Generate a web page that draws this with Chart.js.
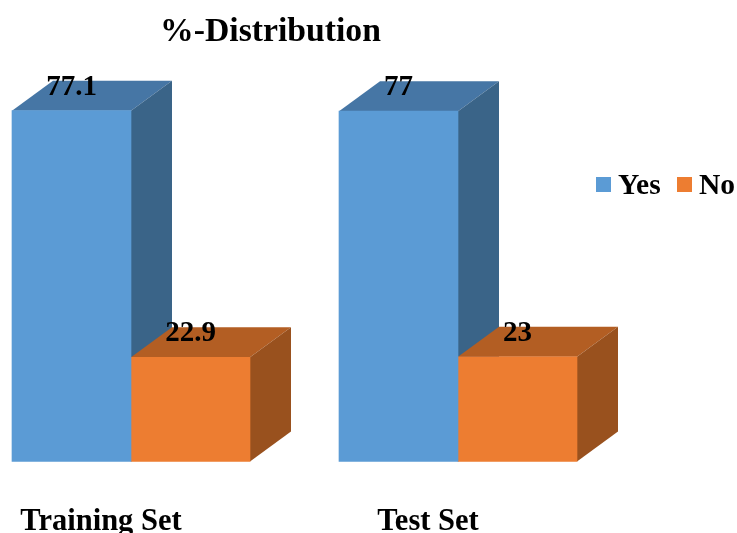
<!DOCTYPE html>
<html>
<head>
<meta charset="utf-8">
<style>
  html, body { margin: 0; padding: 0; background: #fff; overflow: hidden; }
  canvas { display: block; }
</style>
<script src="https://cdn.jsdelivr.net/npm/chart.js@4"></script>
</head>
<body>
<canvas id="chart" width="737" height="533"></canvas>
<script>
const categories = ["Training Set", "Test Set"];
const yesValues = [77.1, 77];
const noValues = [22.9, 23];
const chartTitle = "%-Distribution";

const FONT = '"Liberation Serif", serif';
const DEPTH_X = 41;
const DEPTH_Y = 30;

// Face colours for each series: front, top and side of the box.
const yesFaces = { front: "#5B9BD5", top: "#4676A5", side: "#3A6488" };
const noFaces = { front: "#ED7D31", top: "#B35E23", side: "#99511E" };

function polygon(ctx, points, fill) {
  ctx.beginPath();
  points.forEach(([x, y], i) => (i ? ctx.lineTo(x, y) : ctx.moveTo(x, y)));
  ctx.closePath();
  ctx.fillStyle = fill;
  ctx.fill();
}

const boxFaces = {
  id: "boxFaces",
  // Extrudes every bar into a box; later series overlap the sides of earlier ones.
  beforeDatasetsDraw(chart) {
    const ctx = chart.ctx;
    ctx.save();
    chart.data.datasets.forEach((dataset, i) => {
      chart.getDatasetMeta(i).data.forEach((bar) => {
        const left = bar.x - bar.width / 2;
        const right = bar.x + bar.width / 2;
        const top = bar.y;
        const bottom = bar.base;
        polygon(ctx, [[left, top], [left + DEPTH_X, top - DEPTH_Y],
          [right + DEPTH_X, top - DEPTH_Y], [right, top]], dataset.faces.top);
        polygon(ctx, [[right, top], [right + DEPTH_X, top - DEPTH_Y],
          [right + DEPTH_X, bottom - DEPTH_Y], [right, bottom]], dataset.faces.side);
      });
    });
    ctx.restore();
  },
  // Value labels sit on the top face of each box.
  afterDatasetsDraw(chart) {
    const ctx = chart.ctx;
    ctx.save();
    ctx.font = `bold 29px ${FONT}`;
    ctx.fillStyle = "#000";
    ctx.textAlign = "center";
    ctx.textBaseline = "middle";
    chart.data.datasets.forEach((dataset, i) => {
      chart.getDatasetMeta(i).data.forEach((bar, j) => {
        ctx.fillText(String(dataset.data[j]), bar.x, bar.y - 23.5);
      });
    });
    ctx.restore();
  }
};

// Compact legend to the right of the boxes, with a tight swatch-to-text gap.
const sideLegend = {
  id: "sideLegend",
  afterDraw(chart) {
    const ctx = chart.ctx;
    const starts = [596, 677];
    const y = 184.5;
    ctx.save();
    ctx.font = `bold 29.5px ${FONT}`;
    ctx.textBaseline = "middle";
    ctx.textAlign = "left";
    chart.data.datasets.forEach((dataset, i) => {
      ctx.fillStyle = dataset.backgroundColor;
      ctx.fillRect(starts[i], y - 7.5, 15, 15);
      ctx.fillStyle = "#000";
      ctx.fillText(dataset.label, starts[i] + 22, y + 2);
    });
    ctx.restore();
  }
};

// The title is centred over the boxes rather than over the whole canvas.
const titlePlacement = {
  id: "titlePlacement",
  afterLayout(chart) {
    chart.titleBlock.left = 0;
    chart.titleBlock.right = 541;
    chart.titleBlock.width = 541;
  }
};

new Chart(document.getElementById("chart"), {
  type: "bar",
  data: {
    labels: categories,
    datasets: [
      { label: "Yes", data: yesValues, backgroundColor: yesFaces.front, faces: yesFaces },
      { label: "No", data: noValues, backgroundColor: noFaces.front, faces: noFaces }
    ]
  },
  options: {
    responsive: false,
    animation: false,
    clip: false,
    barThickness: 119,
    layout: { padding: { left: 131, right: 279, top: 12, bottom: 0 } },
    plugins: {
      legend: { display: false },
      tooltip: { enabled: false },
      title: {
        display: true,
        text: chartTitle,
        color: "#000",
        font: { family: FONT, size: 33.7, weight: "bold" },
        padding: { top: 0, bottom: 22.3 }
      }
    },
    scales: {
      x: {
        type: "category",
        offset: false,
        grid: { display: false, drawTicks: false },
        border: { display: false },
        afterFit(scale) { scale.height = 71.5; },
        ticks: {
          color: "#000",
          font: { family: FONT, size: 30.5, weight: "bold" },
          padding: 42,
          labelOffset: -30,
          maxRotation: 0,
          minRotation: 0,
          autoSkip: false
        }
      },
      y: {
        display: false,
        min: 0,
        max: 85,
        grid: { display: false }
      }
    }
  },
  plugins: [boxFaces, sideLegend, titlePlacement]
});
</script>
</body>
</html>
